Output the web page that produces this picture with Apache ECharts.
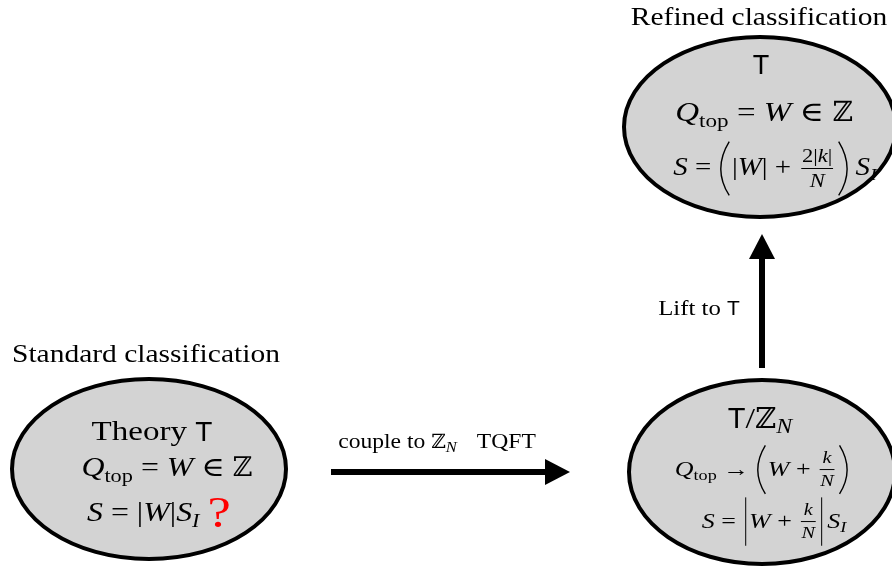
<!DOCTYPE html>
<html>
<head>
<meta charset="utf-8">
<script src="https://cdn.jsdelivr.net/npm/echarts@6/dist/echarts.min.js"></script>
<style>
  html, body { margin: 0; padding: 0; background: #fff; }
  #main { width: 892px; height: 566px; }
</style>
</head>
<body>
<div id="main"></div>
<script>
// 分類の関係図（ECharts の custom series で描画）
// 座標は隠した value 軸（0..892 × 0..566）の上で指定し、api.coord で画面に写す。

// ---- データ ----
const nodeNames = ['standard', 'quotient', 'refined'];
const nodeX = [149, 762, 760];
const nodeY = [469, 472, 127];
const nodeRX = [137, 133, 136];
const nodeRY = [90, 92, 90];

const arrowNames = ['couple', 'lift'];
const arrowX1 = [331, 762];
const arrowY1 = [472, 368];
const arrowX2 = [570, 762];
const arrowY2 = [472, 234];

const labelX = [12, 759, 437, 699];
const labelY = [355, 18, 443, 309];
const labelAnchor = ['left', 'center', 'center', 'center'];

// 数式トークン: s=文字, k=書体(rm/it/sf/bb), sub=下付き, num/den=分数, d=大きい括弧
const Qtop = [{ s: 'Q', k: 'it' }, { sub: [{ s: 'top', k: 'rm' }] }];
const ZN = [{ s: 'ℤ', k: 'bb' }, { sub: [{ s: 'N', k: 'it' }] }];
const SI = [{ s: 'S', k: 'it' }, { sub: [{ s: 'I', k: 'it' }] }];
const kOverN = { num: [{ s: 'k', k: 'it' }], den: [{ s: 'N', k: 'it' }] };

const labelTexts = [
  [{ s: 'Standard classification', k: 'rm' }],
  [{ s: 'Refined classification', k: 'rm' }],
  [{ s: 'couple to ', k: 'rm' }, ...ZN, { gap: 1.0 }, { s: 'TQFT', k: 'rm' }],
  [{ s: 'Lift to ', k: 'rm' }, { s: 'T', k: 'sf' }],
];

const nodeLines = [
  [
    [{ s: 'Theory ', k: 'rm' }, { s: 'T', k: 'sf' }],
    [...Qtop, { s: ' = ', k: 'rm' }, { s: 'W', k: 'it' }, { s: ' ∈ ', k: 'rm' }, { s: 'ℤ', k: 'bb' }],
    [{ s: 'S', k: 'it' }, { s: ' = |', k: 'rm' }, { s: 'W', k: 'it' }, { s: '|', k: 'rm' }, ...SI,
      { gap: 0.3 }, { s: '?', k: 'rm', c: '#ff0000', scale: 1.65, dy: 0.03 }],
  ],
  [
    [{ s: 'T', k: 'sf' }, { s: '/', k: 'rm' }, ...ZN],
    [...Qtop, { s: ' → ', k: 'rm' }, { d: '(' }, { s: 'W', k: 'it' }, { s: ' + ', k: 'rm' }, kOverN, { d: ')' }],
    [{ s: 'S', k: 'it' }, { s: ' = ', k: 'rm' }, { d: '|' }, { s: 'W', k: 'it' }, { s: ' + ', k: 'rm' }, kOverN,
      { d: '|' }, { gap: 0.1 }, ...SI],
  ],
  [
    [{ s: 'T', k: 'sf' }],
    [...Qtop, { s: ' = ', k: 'rm' }, { s: 'W', k: 'it' }, { s: ' ∈ ', k: 'rm' }, { s: 'ℤ', k: 'bb' }],
    [{ s: 'S', k: 'it' }, { s: ' = ', k: 'rm' }, { d: '(' }, { s: '|', k: 'rm' }, { s: 'W', k: 'it' }, { s: '| + ', k: 'rm' },
      { num: [{ s: '2|', k: 'rm' }, { s: 'k', k: 'it' }, { s: '|', k: 'rm' }], den: [{ s: 'N', k: 'it' }] },
      { d: ')' }, { gap: 0.25 }, ...SI],
  ],
];

// 行ごとの配置（中心からのずれ px と文字サイズ）
const lineLayout = [
  [{ dx: 3, dy: -36, size: 28 }, { dx: 18, dy: 0, size: 27 }, { dx: 10, dy: 45, size: 27 }],
  [{ dx: -2, dy: -52, size: 29 }, { dx: 0, dy: -2, size: 22 }, { dx: 12, dy: 50, size: 22 }],
  [{ dx: 1, dy: -60, size: 27 }, { dx: 4, dy: -13, size: 28 }, { dx: 15, dy: 42, size: 24.5 }],
];
const labelSize = [25, 25, 20, 21];

// ---- 数式の簡易組版 ----
const FAMILY = {
  rm: '"Liberation Serif", "DejaVu Serif", serif',
  it: '"Liberation Serif", "DejaVu Serif", serif',
  sf: '"Liberation Sans", "DejaVu Sans", sans-serif',
  bb: '"DejaVu Serif", "DejaVu Sans", serif',
};
// Computer Modern より細身なので横に伸ばす
const STRETCH = { rm: 1.18, it: 1.18, sf: 1.0, bb: 1.0 };
const mctx = document.createElement('canvas').getContext('2d');
function textW(s, k, size) {
  mctx.font = (k === 'it' ? 'italic ' : '') + size + 'px ' + FAMILY[k];
  return mctx.measureText(s).width * STRETCH[k];
}

function layout(tokens, size) {
  let x = 0;
  const parts = [];
  tokens.forEach((tk) => {
    const x0 = x;
    if (tk.s !== undefined) {
      const sz = size * (tk.scale || 1);
      x += textW(tk.s, tk.k, sz);
      parts.push((ox, cy, out) => out.push({
        type: 'text',
        x: ox + x0,
        y: cy + (tk.dy || 0) * size,
        scaleX: STRETCH[tk.k],
        style: {
          text: tk.s, x: 0, y: 0,
          fontFamily: FAMILY[tk.k], fontSize: sz, fontStyle: tk.k === 'it' ? 'italic' : 'normal',
          fill: tk.c || '#000', align: 'left', verticalAlign: 'middle',
        },
      }));
    } else if (tk.sub) {
      const inner = layout(tk.sub, size * 0.7);
      x += inner.w;
      parts.push((ox, cy, out) => inner.draw(ox + x0, cy + size * 0.28, out));
    } else if (tk.num) {
      const fs = size * 0.78;
      const n = layout(tk.num, fs);
      const d = layout(tk.den, fs);
      const w = Math.max(n.w, d.w) + size * 0.3;
      x += w;
      parts.push((ox, cy, out) => {
        const axis = cy - size * 0.02;
        n.draw(ox + x0 + (w - n.w) / 2, axis - fs * 0.62, out);
        d.draw(ox + x0 + (w - d.w) / 2, axis + fs * 0.68, out);
        out.push({
          type: 'line',
          shape: { x1: ox + x0 + size * 0.12, y1: axis, x2: ox + x0 + w - size * 0.12, y2: axis },
          style: { stroke: '#000', lineWidth: 1 },
        });
      });
    } else if (tk.d) {
      const h = size * 2.2;
      const w = tk.d === '|' ? size * 0.3 : size * 0.55;
      x += w;
      parts.push((ox, cy, out) => {
        const top = cy - h / 2 - size * 0.02;
        const bot = cy + h / 2 - size * 0.02;
        if (tk.d === '|') {
          const xm = ox + x0 + w / 2;
          out.push({ type: 'line', shape: { x1: xm, y1: top, x2: xm, y2: bot }, style: { stroke: '#000', lineWidth: 1 } });
          return;
        }
        const shape = tk.d === '('
          ? { x1: ox + x0 + w * 0.8, y1: top, cpx1: ox + x0 - w * 0.45, cpy1: cy, x2: ox + x0 + w * 0.8, y2: bot }
          : { x1: ox + x0 + w * 0.2, y1: top, cpx1: ox + x0 + w * 1.45, cpy1: cy, x2: ox + x0 + w * 0.2, y2: bot };
        out.push({ type: 'bezierCurve', shape, style: { stroke: '#000', lineWidth: 1.4, fill: null } });
      });
    } else if (tk.gap) {
      x += tk.gap * size;
    }
  });
  return { w: x, draw(ox, cy, out) { parts.forEach((p) => p(ox, cy, out)); } };
}

// ---- チャート ----
const chart = echarts.init(document.getElementById('main'), null, { renderer: 'canvas' });

chart.setOption({
  backgroundColor: '#fff',
  animation: false,
  grid: { left: 0, right: 0, top: 0, bottom: 0 },
  xAxis: { type: 'value', min: 0, max: 892, show: false },
  yAxis: { type: 'value', min: 0, max: 566, inverse: true, show: false },
  series: [
    {
      name: 'nodes',
      type: 'custom',
      clip: false,
      data: nodeNames.map((n, i) => ({ name: n, value: [nodeX[i], nodeY[i], nodeRX[i], nodeRY[i]] })),
      renderItem: (params, api) => {
        const i = params.dataIndex;
        const c = api.coord([api.value(0), api.value(1)]);
        const r = api.size([api.value(2), api.value(3)]);
        const children = [{
          type: 'ellipse',
          shape: { cx: c[0], cy: c[1], rx: r[0], ry: r[1] },
          style: { fill: '#d3d3d3', stroke: '#000', lineWidth: 4 },
        }];
        nodeLines[i].forEach((line, j) => {
          const L = lineLayout[i][j];
          const f = layout(line, L.size);
          f.draw(c[0] + L.dx - f.w / 2, c[1] + L.dy, children);
        });
        return { type: 'group', children };
      },
    },
    {
      name: 'arrows',
      type: 'custom',
      clip: false,
      data: arrowNames.map((n, i) => ({ name: n, value: [arrowX1[i], arrowY1[i], arrowX2[i], arrowY2[i]] })),
      renderItem: (params, api) => {
        const p1 = api.coord([api.value(0), api.value(1)]);
        const p2 = api.coord([api.value(2), api.value(3)]);
        const dx = p2[0] - p1[0];
        const dy = p2[1] - p1[1];
        const len = Math.hypot(dx, dy);
        const ux = dx / len;
        const uy = dy / len;
        const head = 25;
        const half = 13;
        const bx = p2[0] - ux * head;
        const by = p2[1] - uy * head;
        return {
          type: 'group',
          children: [
            {
              type: 'line',
              shape: { x1: p1[0], y1: p1[1], x2: bx + ux * 2, y2: by + uy * 2 },
              style: { stroke: '#000', lineWidth: 6 },
            },
            {
              type: 'polygon',
              shape: { points: [p2, [bx - uy * half, by + ux * half], [bx + uy * half, by - ux * half]] },
              style: { fill: '#000' },
            },
          ],
        };
      },
    },
    {
      name: 'labels',
      type: 'custom',
      clip: false,
      data: labelX.map((x, i) => [x, labelY[i]]),
      renderItem: (params, api) => {
        const i = params.dataIndex;
        const c = api.coord([api.value(0), api.value(1)]);
        const f = layout(labelTexts[i], labelSize[i]);
        const children = [];
        f.draw(labelAnchor[i] === 'left' ? c[0] : c[0] - f.w / 2, c[1], children);
        return { type: 'group', children };
      },
    },
  ],
});

window.addEventListener('resize', () => chart.resize());
</script>
</body>
</html>
